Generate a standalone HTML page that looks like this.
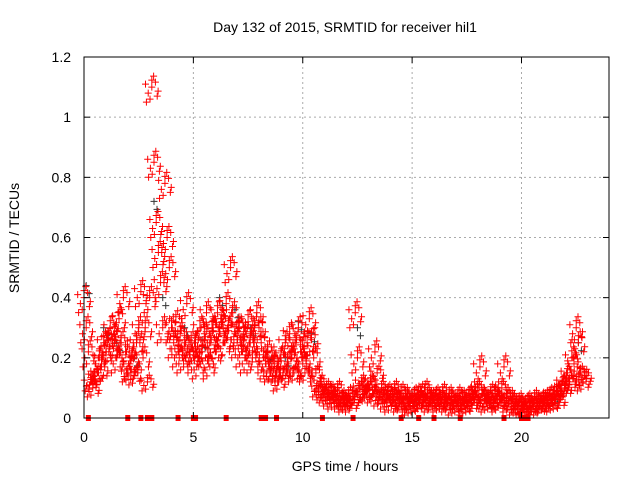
<!DOCTYPE html>
<html><head><meta charset="utf-8"><style>
body{margin:0;background:#fff;}
svg{display:block;font-family:"Liberation Sans",sans-serif;}
</style></head><body>
<svg id="chart" width="640" height="480" viewBox="0 0 640 480">
<text x="345" y="32" font-size="14" text-anchor="middle">Day 132 of 2015, SRMTID for receiver hil1</text>
<text x="345" y="471" font-size="14" text-anchor="middle">GPS time / hours</text>
<text transform="translate(19,238) rotate(-90)" font-size="14" text-anchor="middle">SRMTID / TECUs</text>
<g id="grid"></g><g id="marks"></g><g id="axes"></g>
</svg>
<script>
const xTicks=[0,5,10,15,20];
const yTicks=[0,0.2,0.4,0.6,0.8,1,1.2];
const yTickLabels=["0","0.2","0.4","0.6","0.8","1","1.2"];
const startHour=0, stepHours=0.1;
const values=[
0.40,0.30,0.22,0.12,0.10,0.14,0.15,0.20,0.17,0.25,
0.22,0.26,0.30,0.24,0.28,0.20,0.33,0.25,0.40,0.22,
0.15,0.18,0.20,0.14,0.25,0.30,0.42,0.20,0.30,0.12,
0.40,1.10,0.85,0.65,0.55,0.45,0.30,0.78,0.60,0.50,
0.30,0.25,0.32,0.22,0.28,0.20,0.25,0.38,0.22,0.25,
0.20,0.25,0.18,0.30,0.22,0.28,0.35,0.18,0.25,0.30,
0.22,0.35,0.28,0.32,0.25,0.38,0.30,0.50,0.35,0.28,
0.25,0.30,0.22,0.28,0.20,0.32,0.25,0.20,0.30,0.35,
0.30,0.25,0.20,0.18,0.22,0.15,0.20,0.18,0.15,0.12,
0.20,0.15,0.25,0.18,0.28,0.20,0.15,0.25,0.30,0.22,
0.18,0.15,0.25,0.33,0.26,0.20,0.15,0.10,0.12,0.09,
0.08,0.10,0.07,0.09,0.06,0.08,0.10,0.06,0.07,0.05,
0.06,0.08,0.05,0.07,0.35,0.20,0.10,0.12,0.08,0.09,
0.10,0.12,0.08,0.22,0.15,0.07,0.10,0.08,0.06,0.09,
0.05,0.08,0.10,0.07,0.05,0.09,0.06,0.08,0.05,0.04,
0.06,0.08,0.05,0.07,0.09,0.06,0.10,0.08,0.05,0.07,
0.06,0.08,0.05,0.07,0.09,0.06,0.05,0.08,0.06,0.04,
0.06,0.08,0.05,0.07,0.04,0.06,0.08,0.05,0.07,0.09,
0.10,0.17,0.08,0.06,0.05,0.07,0.09,0.06,0.08,0.05,
0.06,0.10,0.17,0.08,0.05,0.07,0.06,0.04,0.05,0.06,
0.04,0.03,0.05,0.06,0.04,0.05,0.07,0.05,0.04,0.06,
0.05,0.07,0.06,0.08,0.05,0.07,0.09,0.06,0.10,0.12,
0.10,0.15,0.12,0.20,0.18,0.30,0.25,0.15,0.12,0.14];
const zeroTimes=[0.2,2.0,2.6,2.9,3.0,3.1,4.3,5.0,5.1,6.5,8.1,8.2,8.3,8.8,10.9,12.3,14.5,15.3,16.0,17.2,19.2,20.0,20.1,20.3];
const grayTimes=[0.1,0.9,1.5,2.3,3.2,3.6,4.6,5.4,6.2,6.9,7.6,8.4,9.2,9.8,10.4,12.5,15.0,18.5,21.5,22.6];
const grayValues=[0.44,0.30,0.25,0.20,0.72,0.40,0.30,0.26,0.40,0.36,0.30,0.22,0.20,0.32,0.28,0.30,0.08,0.06,0.08,0.25];

const L=84,R=609,T=57,B=418;
const xs=h=>L+h/24*(R-L);
const ys=v=>B-v/1.2*(B-T);
const NS="http://www.w3.org/2000/svg";
function mk(tag,attrs,parent){const e=document.createElementNS(NS,tag);for(const k in attrs)e.setAttribute(k,attrs[k]);parent.appendChild(e);return e;}
const grid=document.getElementById('grid'),marks=document.getElementById('marks'),axes=document.getElementById('axes');
xTicks.forEach(t=>{
  if(t>0){const g=mk('line',{x1:xs(t),x2:xs(t),y1:T,y2:B,stroke:'#aaa','stroke-dasharray':'2,3'},grid);
  
  }
  const tx=mk('text',{x:xs(t),y:B+24,'font-size':14,'text-anchor':'middle'},axes);tx.textContent=t;
  
  
  mk('line',{x1:xs(t),x2:xs(t),y1:B,y2:B-6,stroke:'#000'},axes);
  mk('line',{x1:xs(t),x2:xs(t),y1:T,y2:T+6,stroke:'#000'},axes);
});
yTicks.forEach((t,i)=>{
  if(t>0&&t<1.2){const g=mk('line',{x1:L,x2:R,y1:ys(t),y2:ys(t),stroke:'#aaa','stroke-dasharray':'2,3'},grid);
  
  }
  const tx=mk('text',{x:L-13,y:ys(t)+5,'font-size':14,'text-anchor':'end'},axes);tx.textContent=yTickLabels[i];
  
  
  mk('line',{x1:L,x2:L+6,y1:ys(t),y2:ys(t),stroke:'#000'},axes);
  mk('line',{x1:R,x2:R-6,y1:ys(t),y2:ys(t),stroke:'#000'},axes);
});
const fr=mk('rect',{x:L,y:T,width:R-L,height:B-T,fill:'none',stroke:'#000'},axes);


const jit=[[0,0],[-4,6],[4,-5],[-7,-3],[7,4],[-2,12],[2,-11],[-6,15],[6,9],[0,-7]];
function plus(x,y){return `M${x-3.5},${y}h7M${x},${y-3.5}v7`;}
let grayD='',redD='';
grayTimes.forEach((t,i)=>{const x=xs(t),y=ys(grayValues[i]);grayD+=plus(x,y)+plus(x+3,y+8);});
values.forEach((v,i)=>{
  const x=xs(startHour+i*stepHours),y=ys(v);
  jit.forEach((o,j)=>{
    let yy=y+o[1]*(v>0.15?1:0.6);
    if(yy>B-3)yy=B-3-(j%3);
    redD+=plus(x+o[0]*0.9,yy);
  });
});
let zeroD='';
zeroTimes.forEach(t=>{const x=xs(t);zeroD+=`M${x-2.5},${B-3}h5v6h-5z`;});
const gp=mk('path',{d:grayD,stroke:'#333','stroke-width':1,fill:'none'},marks);


const rp=mk('path',{d:redD,stroke:'#f00','stroke-width':1,fill:'none'},marks);


const zp=mk('path',{d:zeroD,fill:'#f00',stroke:'none'},marks);


</script>
</body></html>
